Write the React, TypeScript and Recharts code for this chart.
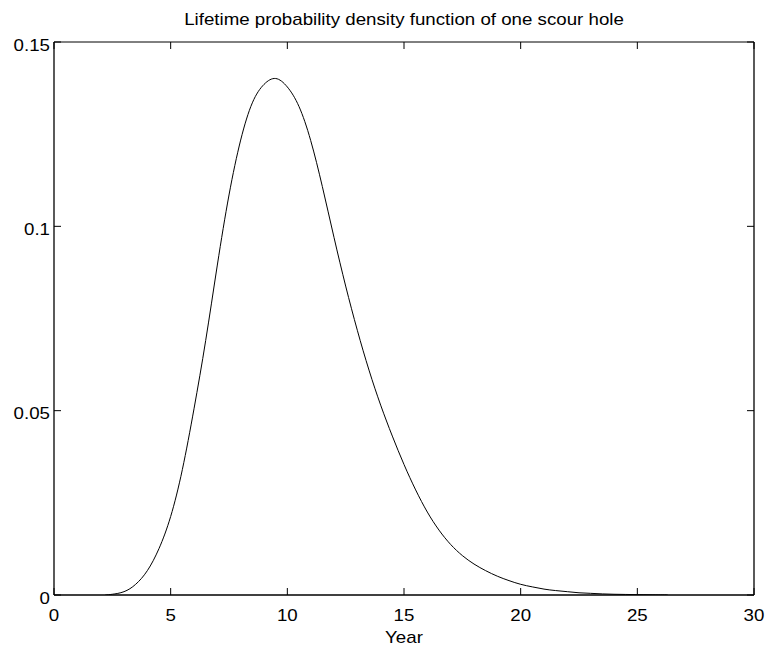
import React from 'react';
import { LineChart, Line, XAxis, YAxis } from 'recharts';

const years = [2.2, 2.5, 3, 3.5, 4, 4.5, 5, 5.5, 6, 6.5, 7, 7.5, 8, 8.5, 9, 9.5, 10, 10.5, 11, 11.5, 12, 12.5, 13, 13.5, 14, 14.5, 15, 15.5, 16, 16.5, 17, 17.5, 18, 18.5, 19, 19.5, 20, 20.5, 21, 21.5, 22, 22.5, 23, 23.5, 24, 24.5, 25, 25.5, 26, 26.3];
const density = [0, 0.0002, 0.0009, 0.0029, 0.0066, 0.0126, 0.0213, 0.034, 0.0505, 0.069, 0.0895, 0.1085, 0.1234, 0.1335, 0.1385, 0.1401, 0.1378, 0.1325, 0.1233, 0.1108, 0.097, 0.0838, 0.0718, 0.061, 0.0515, 0.0431, 0.0354, 0.0285, 0.0225, 0.0176, 0.0137, 0.0107, 0.0084, 0.0066, 0.0051, 0.0039, 0.0029, 0.0022, 0.0016, 0.0012, 0.0009, 0.0006, 0.00045, 0.0003, 0.0002, 0.00015, 0.0001, 0.00006, 0.00003, 0.00002];

const xTicks = [0, 5, 10, 15, 20, 25, 30];
const xTickLabels = ['0', '5', '10', '15', '20', '25', '30'];
const yTicks = [0, 0.05, 0.1, 0.15];
const yTickLabels = ['0', '0.05', '0.1', '0.15'];
const title = 'Lifetime probability density function of one scour hole';
const xLabel = 'Year';

const data = years.map((x, i) => ({ x, y: density[i] }));

const FONT = '"Liberation Sans", Arial, Helvetica, sans-serif';
const TICK_LEN = 7;

const BottomTick = (props: any) => {
  const { x, y, index } = props;
  return (
    <g>
      <line x1={x} y1={y} x2={x} y2={y - TICK_LEN} stroke="#000" strokeWidth={1} />
      <g transform={`translate(${x},${y + 26})`}>
        <text transform="scale(1.1,1)" textAnchor="middle" fontFamily={FONT} fontSize={17} fill="#000">
          {xTickLabels[index]}
        </text>
      </g>
    </g>
  );
};

const TopTick = (props: any) => {
  const { x, y } = props;
  return <line x1={x} y1={y} x2={x} y2={y + TICK_LEN} stroke="#000" strokeWidth={1} />;
};

const LeftTick = (props: any) => {
  const { x, y, index } = props;
  return (
    <g>
      <line x1={x} y1={y} x2={x + TICK_LEN} y2={y} stroke="#000" strokeWidth={1} />
      <g transform={`translate(${x - 4},${y + 8.5})`}>
        <text transform="scale(1.1,1)" textAnchor="end" fontFamily={FONT} fontSize={17} fill="#000">
          {yTickLabels[index]}
        </text>
      </g>
    </g>
  );
};

const RightTick = (props: any) => {
  const { x, y } = props;
  return <line x1={x} y1={y} x2={x - TICK_LEN} y2={y} stroke="#000" strokeWidth={1} />;
};

const textStyle: React.CSSProperties = {
  position: 'absolute',
  fontFamily: FONT,
  fontSize: 17,
  lineHeight: '17px',
  color: '#000',
  whiteSpace: 'nowrap',
  transformOrigin: 'center',
};

export default function App() {
  return (
    <div style={{ position: 'absolute', left: 0, top: 0, width: 768, height: 651, background: '#fff' }}>
      <LineChart width={768} height={651} data={data} margin={{ top: 12, right: 0, bottom: 0, left: 0 }}>
        <XAxis xAxisId="b" type="number" dataKey="x" domain={[0, 30]} ticks={xTicks} interval={0}
          orientation="bottom" height={56} tickSize={0} tickMargin={0} tick={<BottomTick />} tickLine={false}
          axisLine={{ stroke: '#000', strokeWidth: 1.3 }} allowDataOverflow />
        <XAxis xAxisId="t" type="number" dataKey="x" domain={[0, 30]} ticks={xTicks} interval={0}
          orientation="top" height={30} tickSize={0} tickMargin={0} tick={<TopTick />} tickLine={false}
          axisLine={{ stroke: '#000', strokeWidth: 1 }} allowDataOverflow />
        <YAxis yAxisId="l" type="number" dataKey="y" domain={[0, 0.15]} ticks={yTicks} interval={0}
          orientation="left" width={54} tickSize={0} tickMargin={0} tick={<LeftTick />} tickLine={false}
          axisLine={{ stroke: '#000', strokeWidth: 1.3 }} allowDataOverflow />
        <YAxis yAxisId="r" type="number" dataKey="y" domain={[0, 0.15]} ticks={yTicks} interval={0}
          orientation="right" width={14} tickSize={0} tickMargin={0} tick={<RightTick />} tickLine={false}
          axisLine={{ stroke: '#000', strokeWidth: 1.3 }} allowDataOverflow />
        <Line xAxisId="b" yAxisId="l" type="natural" dataKey="y" stroke="#000" strokeWidth={1}
          dot={false} activeDot={false} isAnimationActive={false} />
      </LineChart>
      <div style={{ ...textStyle, left: 404, top: 11, transform: 'translateX(-50%) scaleX(1.1)' }}>{title}</div>
      <div style={{ ...textStyle, left: 404, top: 629, transform: 'translateX(-50%) scaleX(1.1)' }}>{xLabel}</div>
    </div>
  );
}
